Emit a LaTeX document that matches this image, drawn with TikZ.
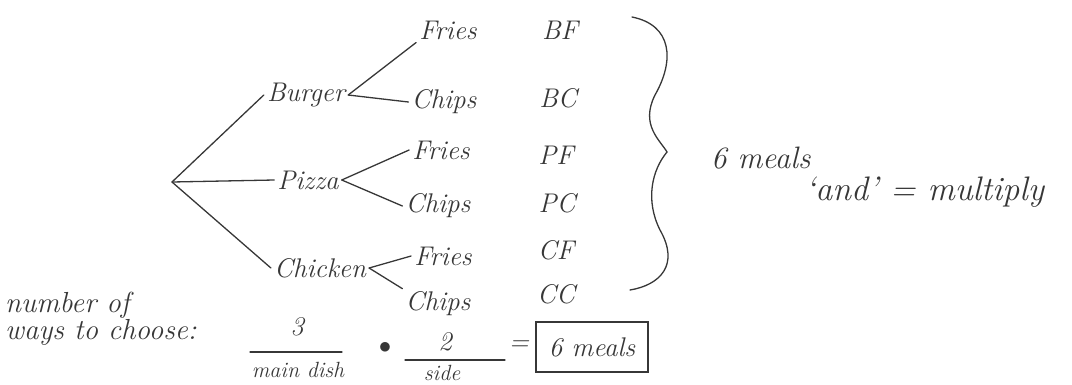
\documentclass[tikz,border=0pt]{standalone}
\usepackage{fontspec}
\usetikzlibrary{calc}
\definecolor{pencil}{RGB}{55,55,55}
\begin{document}
\begin{tikzpicture}[x=1pt,y=-1pt,
  hand/.style={font=\fontsize{27}{30}\selectfont\itshape, text=pencil, inner sep=3pt},
  small/.style={font=\fontsize{22}{24}\selectfont\itshape, text=pencil, inner sep=2pt},
  note/.style={font=\fontsize{29}{25}\selectfont\itshape, text=pencil, inner sep=2pt},
  branch/.style={draw=pencil, line width=1.3pt, line cap=round},
  rule/.style={draw=pencil, line width=1.2pt, line cap=round}]
\useasboundingbox (0,0) rectangle (1072,384);

% tree: main dishes
\coordinate (root) at (172,182);
\node[hand] (burger)  at (306,95)  {Burger};
\node[hand] (pizza)   at (308,180) {Pizza};
\node[hand] (chicken) at (320,268) {Chicken};

% tree: sides
\node[hand] (f1) at (448,30)  {Fries};
\node[hand] (c1) at (444,102) {Chips};
\node[hand] (f2) at (441,150) {Fries};
\node[hand] (c2) at (438,206) {Chips};
\node[hand] (f3) at (443,256) {Fries};
\node[hand] (c3) at (438,304) {Chips};

\draw[branch] (root) -- (burger.west);
\draw[branch] (root) -- (pizza.west);
\draw[branch] (root) -- (chicken.west);
\draw[branch] (burger.east) -- (f1.south west);
\draw[branch] (burger.east) -- (c1.west);
\draw[branch] (pizza.east) -- (f2.west);
\draw[branch] (pizza.east) -- (c2.west);
\draw[branch] (chicken.east) -- (f3.west);
\draw[branch] (chicken.east) -- (c3.north west);

% outcomes
\node[hand] (bf) at (560,30)  {BF};
\node[hand] (bc) at (558,98)  {BC};
\node[hand] (pf) at (556,155) {PF};
\node[hand] (pc) at (557,203) {PC};
\node[hand] (cf) at (556,250) {CF};
\node[hand] (cc) at (556,294) {CC};

% brace grouping the outcomes
\coordinate (btop) at (632,17);
\coordinate (bmid) at (667,152);
\coordinate (bbot) at (630,290);
\draw[branch] (btop) .. controls (672,25) and (675,60) .. (655,95)
  .. controls (640,125) and (660,140) .. (bmid)
  .. controls (652,170) and (645,200) .. (660,230)
  .. controls (680,265) and (660,285) .. (bbot);
\node[hand, font=\fontsize{31}{34}\selectfont\itshape, anchor=west] (total) at (708,158) {6 meals};
\node[note, font=\fontsize{34}{36}\selectfont\itshape, anchor=west] (rule) at (803,192) {`and' = multiply};

% counting principle
\node[note, align=left, anchor=north west] (ways) at (3,290) {number of\\ways to choose:};
\node[hand] (three) at (297,327) {3};
\draw[rule] (250,352) -- (342,352);
\node[small] (main) at (298,370) {main dish};
\node[font=\fontsize{30}{30}\selectfont, text=pencil] (dot) at (385,348) {$\bullet$};
\node[hand] (two) at (445,342) {2};
\draw[rule] (405,360) -- (505,360);
\node[small] (side) at (442,373) {side};
\node[hand] (eq) at (519,346) {=};
\node[hand, draw=pencil, line width=1.2pt, minimum width=112pt, minimum height=50pt] (answer) at (592,347) {6 meals};
\end{tikzpicture}
\end{document}
